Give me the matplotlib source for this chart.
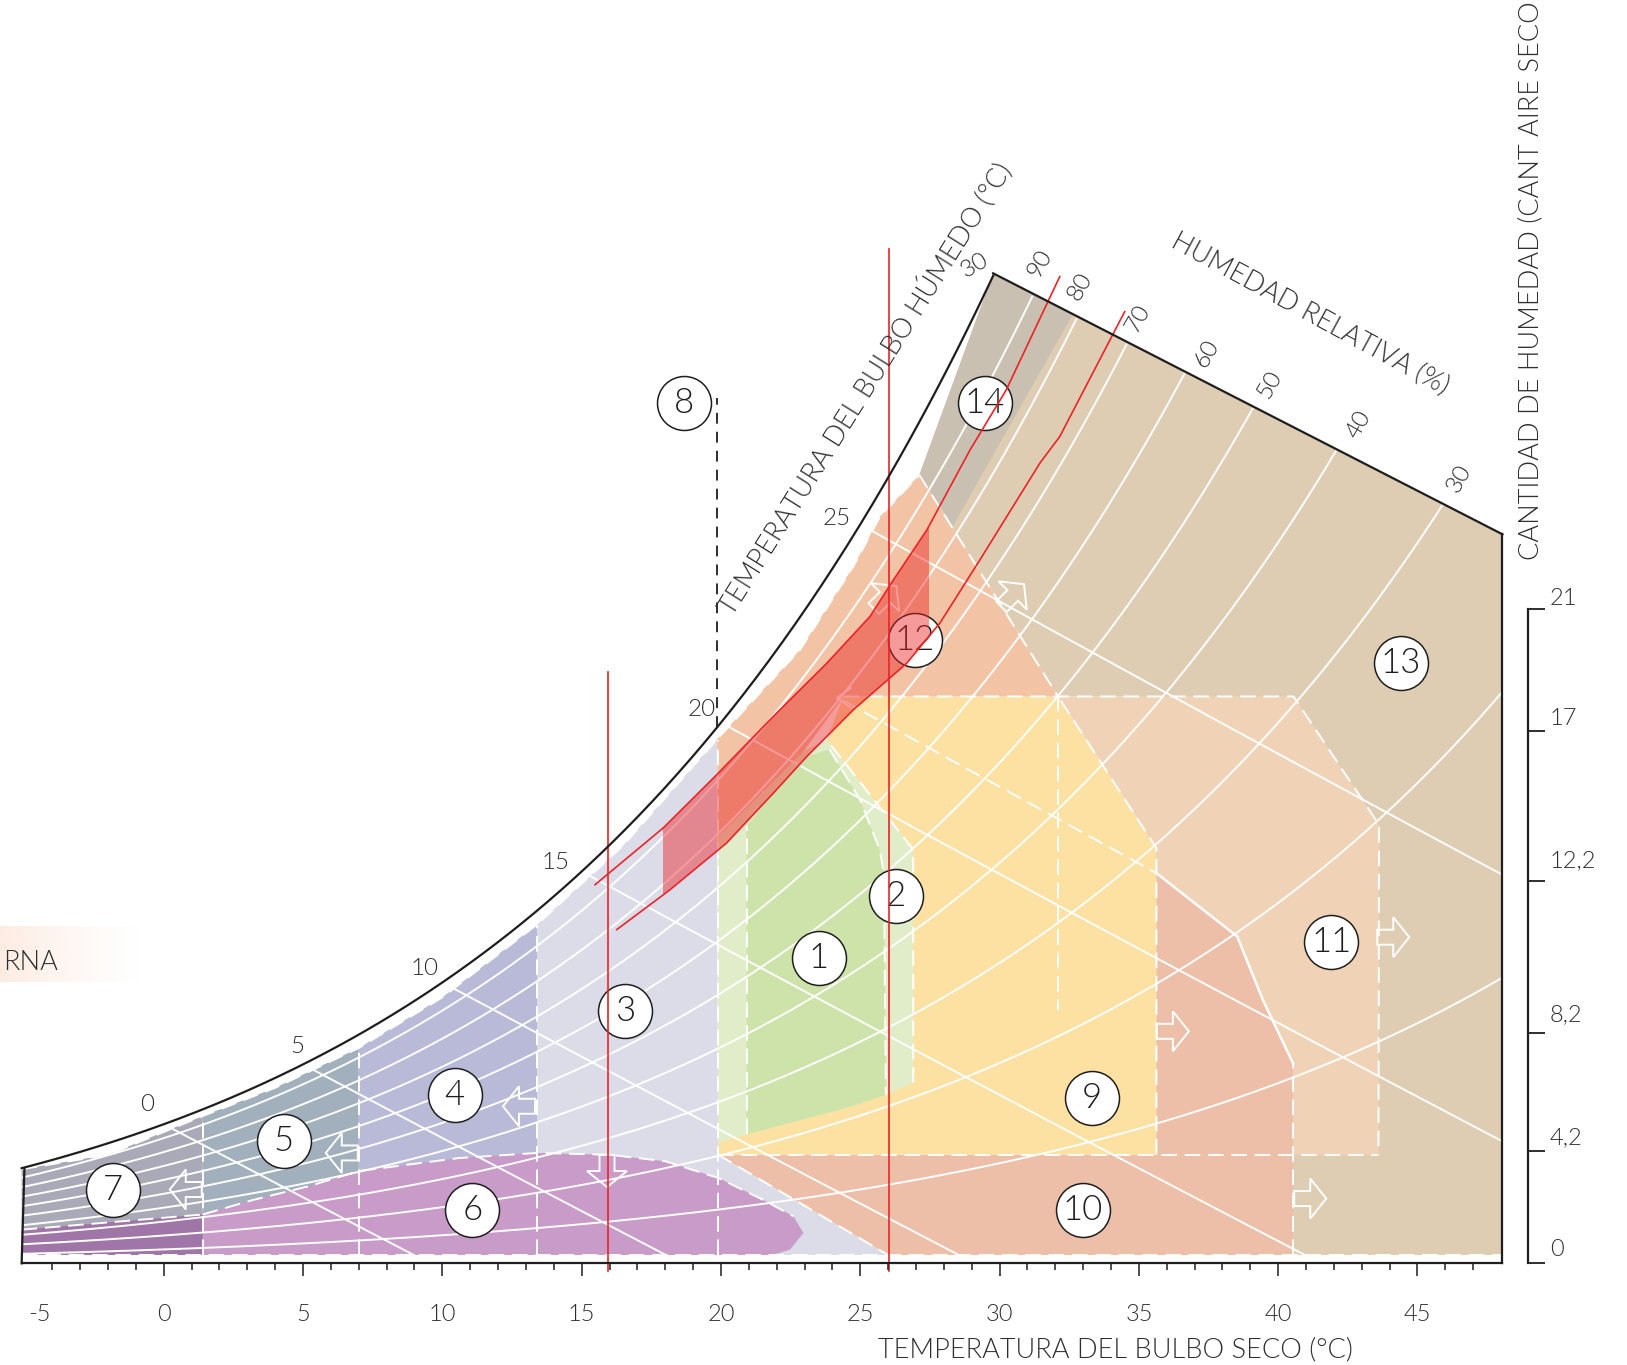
import numpy as np
import matplotlib
matplotlib.use("Agg")
import matplotlib.pyplot as plt
from matplotlib.patches import Polygon, Rectangle
import matplotlib.transforms as mtransforms

plt.rcParams['font.family'] = ['Lato', 'DejaVu Sans']

TEXT = '#2e2e2e'
INK = '#1e1e1e'
RED = '#eb2326'
FW = 300   # thin weight for every label

# ------------------------------------------------------------------
# Psychrometric frame: dry bulb (degC) vs humidity ratio (g/kg)
T_LEFT, T_RIGHT = -5.1, 48.05
W_BASE = 0.23            # lower edge of the coloured areas
P_ATM = 99.5             # kPa


def p_sat(t):
    t = np.asarray(t, dtype=float)
    return 0.61094 * np.exp(17.625 * t / (t + 243.04))


def w_sat(t):
    ps = p_sat(t)
    return 622.0 * ps / (P_ATM - ps)


def w_wetbulb(t, twb):
    ws = w_sat(twb)
    return ((2501 - 2.326 * twb) * ws - 1006 * (t - twb)) / (2501 + 1.86 * t - 4.186 * twb)


RH_LEVELS = [10, 20, 30, 40, 50, 60, 70, 80, 90]
WB_LEVELS = [0, 5, 10, 15, 20, 25]

# upper edge of the coloured areas (just under the saturation curve)
fill_top_T = [-5.1, -2.0, 1.4, 4.0, 7.0, 10.0, 13.4, 16.5, 19.85, 22.84, 24.75, 25.71, 27.12, 29.77]
fill_top_W = [2.60, 3.00, 4.07, 4.85, 5.95, 7.35, 9.36, 11.55, 14.47, 16.95, 19.25, 20.63, 21.78, 27.35]

# upper boundary of the chart (30 degC wet bulb)
top_edge_T = [29.77, 48.05]
top_edge_W = [27.35, 20.14]

# zone 6 (purple) upper boundary
zone6_top_T = [1.4, 3.2, 5.2, 7.0, 10.6, 13.4, 16.0, 18.0, 19.9, 21.5, 22.6, 22.96, 22.48, 21.83]
zone6_top_W = [1.35, 1.75, 2.13, 2.55, 2.91, 3.05, 3.00, 2.82, 2.36, 1.76, 1.30, 0.84, 0.38, 0.23]

# upper edge of the dark band (zones 6 and 7 overlapping)
band_T = [-5.1, 1.4]
band_W = [0.93, 1.35]

# green zones lower edge
green_low_T = [19.9, 20.92, 24.72, 25.92, 26.9]
green_low_W = [3.33, 3.56, 4.34, 4.66, 4.99]

# zone 1 right edge (top to bottom)
zone1_right_T = [23.9, 24.99, 25.7, 25.85, 25.92]
zone1_right_W = [14.2, 12.81, 11.43, 10.78, 4.66]

# red climate band
red_upper_T = [15.48, 17.93, 19.85, 21.88, 23.80, 25.35, 26.19, 27.39, 28.94, 30.24, 32.16]
red_upper_W = [10.46, 12.03, 13.50, 15.11, 16.58, 17.87, 18.88, 20.26, 22.47, 24.13, 27.26]
red_lower_T = [16.26, 18.17, 20.20, 21.88, 23.08, 24.75, 26.67, 27.86, 29.30, 31.45, 32.16, 34.49]
red_lower_W = [9.22, 10.32, 11.61, 12.99, 14.00, 15.29, 16.58, 17.69, 19.44, 22.11, 22.84, 26.29]
red_band_T = [17.93, 27.45]
red_vert_T = [15.95, 26.04]
red_vert_top_W = [16.33, 28.02]

# zone labels
zone_ids = ['1', '2', '3', '4', '5', '6', '7', '8', '9', '10', '11', '12', '13', '14']
zone_T = [23.52, 26.29, 16.55, 10.44, 4.31, 11.08, -1.83, 18.67, 33.30, 32.98, 41.90, 26.96, 44.41, 29.47]
zone_W = [8.44, 10.14, 6.96, 4.66, 3.37, 1.48, 2.04, 23.76, 4.57, 1.48, 8.89, 17.23, 16.58, 23.76]

# direction arrows
arrow_T = [0.79, 6.39, 12.75, 15.91, 36.22, 41.15, 44.13, 30.47]
arrow_W = [2.04, 3.05, 4.34, 2.55, 6.41, 1.79, 9.01, 18.45]
arrow_dir = [180, 180, 180, 270, 0, 0, 0, 45]

# labels
rh_label_text = ['90', '80', '70', '60', '50', '40', '30']
rh_label_T = [31.44, 32.89, 34.97, 37.45, 39.69, 42.90, 46.50]
rh_label_W = [27.63, 26.98, 26.11, 25.14, 24.27, 23.16, 21.69]

wb_label_text = ['0', '5', '10', '15', '20', '25', '30']
wb_label_T = [-0.60, 4.80, 9.38, 14.06, 19.31, 24.15, 29.12]
wb_label_W = [4.39, 6.00, 8.14, 11.08, 15.29, 20.59, 27.58]
wb_label_rot = [0, 0, 0, 0, 0, 0, 30]

x_major = [0, 5, 10, 15, 20, 25, 30, 35, 40, 45]
x_minor = [t for t in range(-4, 48) if t % 5 != 0]
x_label_text = ['-5', '0', '5', '10', '15', '20', '25', '30', '35', '40', '45']
x_label_T = [-4.46, 0, 5, 10, 15, 20, 25, 30, 35, 40, 45]

hum_tick_W = [0.0, 3.09, 6.36, 10.57, 14.70, 18.08]
hum_tick_labels = ['0', '4,2', '8,2', '12,2', '17', '21']
hum_label_W = [0.37, 3.47, 6.88, 11.12, 15.04, 18.37]


def top_between(t0, t1):
    return [(t, w) for t, w in zip(fill_top_T, fill_top_W) if t0 <= t <= t1]


# zone outlines (dry bulb, humidity ratio)
zone13 = [(27.12, 21.78), (29.77, 27.35), (48.05, 20.14), (48.05, W_BASE), (35.0, W_BASE),
          (35.0, 15.66), (32.1, 15.66)]
zone14 = [(27.12, 21.78), (29.77, 27.35), (32.64, 26.23), (28.32, 20.36)]
zone11 = [(32.1, 15.66), (40.55, 15.66), (43.62, 12.12), (43.6, 3.0), (35.63, 3.0), (35.63, 11.47)]
zone10 = [(19.9, 3.0), (26.0, W_BASE), (40.53, W_BASE), (40.53, 5.53), (39.45, 7.28),
          (38.53, 9.03), (35.63, 10.78), (35.63, 3.0)]
zone9 = [(19.9, 3.0), (35.63, 3.0), (35.63, 11.47), (32.1, 15.66), (24.4, 15.66),
         (23.8, 14.46), (22.96, 14.14), (19.9, 11.8)]
zone3 = [(13.4, W_BASE)] + top_between(13.4, 19.85) + [(19.9, 3.0), (26.0, W_BASE)]
zone4 = [(7.0, W_BASE)] + top_between(7.0, 13.4) + [(13.4, W_BASE)]
zone5 = [(1.4, W_BASE)] + top_between(1.4, 7.0) + [(7.0, W_BASE)]
zone7 = [(-5.1, W_BASE)] + top_between(-5.1, 1.4) + [(1.4, W_BASE)]
zone6 = [(1.4, W_BASE)] + list(zip(zone6_top_T, zone6_top_W))
zone67 = [(-5.1, W_BASE)] + list(zip(band_T, band_W)) + [(1.4, W_BASE)]
zone2 = list(zip(green_low_T, green_low_W)) + [(26.9, 11.43), (23.8, 14.46), (22.96, 14.14), (19.9, 11.8)]
zone1 = [(20.92, 3.56), (24.72, 4.34)] + list(zip(zone1_right_T, zone1_right_W))[::-1] + \
        [(23.08, 14.0), (21.88, 12.99), (20.92, 12.07)]
zone12 = top_between(19.85, 27.12) + [(32.1, 15.66), (24.4, 15.66), (22.96, 14.14), (19.9, 11.8)]

zones = [
    (zone13, '#decdb3'), (zone14, '#cac0b1'), (zone11, '#f0d3b7'), (zone10, '#edbfa9'),
    (zone9, '#fde1a3'), (zone3, '#dcdce9'), (zone4, '#b8bad7'), (zone5, '#a2afbd'),
    (zone7, '#a9a9b7'), (zone6, '#c89bc9'), (zone67, '#a076a8'), (zone2, '#e1edc8'),
    (zone1, '#cde3aa'), (zone12, '#f2c3a4'),
]

# dashed white zone borders
dashed_borders = [
    [(19.9, 3.0), (43.6, 3.0)],
    [(35.63, 3.0), (35.63, 11.47), (32.1, 15.66)],
    [(24.4, 15.66), (40.55, 15.66), (43.62, 12.12), (43.6, 3.0)],
    [(40.53, W_BASE), (40.53, 5.53)],
    [(19.9, 3.0), (26.0, W_BASE)],
    [(T_LEFT, W_BASE), (T_RIGHT, W_BASE)],
    [(1.4, W_BASE), (1.4, 4.07)],
    [(7.0, W_BASE), (7.0, 5.95)],
    [(13.4, W_BASE), (13.4, 9.36)],
    [(19.9, W_BASE), (19.9, 14.47)],
    [(20.92, 3.56), (20.92, 12.07)],
    [(26.9, 4.99), (26.9, 11.43), (23.8, 14.46)],
    list(zip(zone1_right_T, zone1_right_W)),
    [(27.12, 21.78), (32.1, 15.66)],
    [(32.1, 15.66), (32.1, 7.01)],
    [(24.4, 15.54), (35.63, 10.78)],
    list(zip(zone6_top_T, zone6_top_W))[:11],
    list(zip(band_T, band_W)),
    list(zip(fill_top_T, fill_top_W))[:13],
]
solid_borders = [
    [(35.63, 10.78), (38.53, 9.03), (39.45, 7.28), (40.53, 5.53)],
]

# ------------------------------------------------------------------
fig = plt.figure(figsize=(16.27, 13.65), dpi=100)
ax = fig.add_axes([0, 0, 1, 1])
ax.set_xlim(-5.877, 52.52)
ax.set_ylim(-2.808, 34.9)
ax.axis('off')

for pts, col in zones:
    ax.add_patch(Polygon(pts, closed=True, facecolor=col, edgecolor='none', zorder=1))

# chart interior used to clip the grid lines
sat_T = np.linspace(T_LEFT, top_edge_T[0], 300)
sat_W = w_sat(sat_T)
outline = [(T_LEFT, 0.0)] + list(zip(sat_T, sat_W)) + [(top_edge_T[1], top_edge_W[1]), (T_RIGHT, 0.0)]
clip_poly = Polygon(outline, closed=True, facecolor='none', edgecolor='none')
ax.add_patch(clip_poly)

# relative humidity lines
for rh in RH_LEVELS:
    tt = np.linspace(T_LEFT, T_RIGHT, 400)
    ln, = ax.plot(tt, rh / 100.0 * w_sat(tt), color='white', lw=1.4, zorder=3)
    ln.set_clip_path(clip_poly)

# wet bulb lines
for twb in WB_LEVELS:
    tt = np.linspace(twb, T_RIGHT, 400)
    ww = w_wetbulb(tt, twb)
    keep = ww >= 0
    ln, = ax.plot(tt[keep], ww[keep], color='white', lw=1.4, zorder=3)
    ln.set_clip_path(clip_poly)

for seg in dashed_borders:
    xs, ys = zip(*seg)
    ax.plot(xs, ys, color='white', lw=1.4, ls=(0, (8, 4)), zorder=3)
for seg in solid_borders:
    xs, ys = zip(*seg)
    ax.plot(xs, ys, color='white', lw=1.8, zorder=3)

fig.canvas.draw()

ARROW_SHAPE = np.array([(-16, -7.5), (0, -7.5), (0, -20), (16, 0), (0, 20), (0, 7.5), (-16, 7.5)])


def pixel_arrow(t, w, angle, z):
    cx, cy = ax.transData.transform((t, w))
    th = np.deg2rad(angle)
    rot = np.array([[np.cos(th), -np.sin(th)], [np.sin(th), np.cos(th)]])
    pts = ARROW_SHAPE @ rot.T + np.array([cx, cy])
    ax.add_patch(Polygon(pts, closed=True, fill=False, edgecolor='white', lw=1.4,
                         transform=mtransforms.IdentityTransform(), zorder=z))


for t, w, a in zip(arrow_T, arrow_W, arrow_dir):
    pixel_arrow(t, w, a, 4)
# arrow lying under the red band
pixel_arrow(25.89, 18.40, 45, 4)

# chevron on the 80 % line
cx, cy = ax.transData.transform((24.16, 15.62))
chev = np.array([(14, 10), (0, 0), (14, -10)]) + np.array([cx, cy])
ax.plot(chev[:, 0], chev[:, 1], color='white', lw=1.3, transform=mtransforms.IdentityTransform(), zorder=4)

# zone number circles
for zid, t, w in zip(zone_ids, zone_T, zone_W):
    ax.scatter([t], [w], s=1510, facecolor='white', edgecolor=INK, linewidths=1.1, zorder=5)
    ax.text(t, w, zid, ha='center', va='center', fontsize=25, fontweight=FW, color=INK, zorder=5.5)

# red band (translucent) clipped between its two bounding verticals
band_pts = list(zip(red_upper_T, red_upper_W)) + list(zip(red_lower_T, red_lower_W))[::-1]
band = Polygon(band_pts, closed=True, facecolor=RED, alpha=0.455, edgecolor='none', zorder=6)
ax.add_patch(band)
band_clip = Rectangle((red_band_T[0], 0), red_band_T[1] - red_band_T[0], 30,
                      facecolor='none', edgecolor='none')
ax.add_patch(band_clip)
band.set_clip_path(band_clip)

ax.plot(red_upper_T, red_upper_W, color=RED, lw=1.2, zorder=7)
ax.plot(red_lower_T, red_lower_W, color=RED, lw=1.2, zorder=7)
for t, top in zip(red_vert_T, red_vert_top_W):
    ax.plot([t, t], [-0.2, top], color=RED, lw=1.2, zorder=7)

# chart outline
ax.plot(sat_T, sat_W, color=INK, lw=1.6, zorder=8)
ax.plot(top_edge_T, top_edge_W, color=INK, lw=1.6, zorder=8)
ax.plot([T_RIGHT, T_RIGHT], [top_edge_W[1], 0], color=INK, lw=1.6, zorder=8)
ax.plot([T_LEFT, T_LEFT + 0.1], [0, w_sat(T_LEFT)], color=INK, lw=1.6, zorder=8)

# zone 8 marker line
ax.plot([19.87, 19.87], [w_sat(19.87), 23.9], color=INK, lw=1.3, ls=(0, (6, 4.5)), zorder=8)

# bottom axis
fw, fh = fig.bbox.width, fig.bbox.height
x0, y0 = ax.transData.transform((T_LEFT, 0.0))
x1, _ = ax.transData.transform((T_RIGHT, 0.0))
axb = fig.add_axes([x0 / fw, y0 / fh, (x1 - x0) / fw, 1e-4])
axb.set_xlim(T_LEFT, T_RIGHT)
axb.patch.set_visible(False)
for s in ['left', 'right', 'top']:
    axb.spines[s].set_visible(False)
axb.spines['bottom'].set_linewidth(1.6)
axb.spines['bottom'].set_color(INK)
axb.set_yticks([])
axb.set_xticks(x_major)
axb.set_xticks(x_minor, minor=True)
axb.tick_params(axis='x', which='major', length=9.5, width=1.1, color=INK, direction='out', labelbottom=False)
axb.tick_params(axis='x', which='minor', length=5, width=1.1, color=INK, direction='out')

for lab, t in zip(x_label_text, x_label_T):
    ax.text(t, -1.40, lab, ha='center', va='center', fontsize=17, fontweight=FW, color=TEXT)
ax.text(34.17, -2.38, 'TEMPERATURA DEL BULBO SECO (°C)', ha='center', va='center',
        fontsize=19.5, fontweight=FW, color=TEXT)

# right humidity scale
xr, _ = ax.transData.transform((48.95, 0.0))
_, yr0 = ax.transData.transform((0, 0.0))
_, yr1 = ax.transData.transform((0, hum_tick_W[-1]))
axr = fig.add_axes([xr / fw, yr0 / fh, 1e-4, (yr1 - yr0) / fh])
axr.set_ylim(0, hum_tick_W[-1])
axr.patch.set_visible(False)
for s in ['right', 'top', 'bottom']:
    axr.spines[s].set_visible(False)
axr.spines['left'].set_linewidth(1.6)
axr.spines['left'].set_color(INK)
axr.set_xticks([])
axr.set_yticks(hum_tick_W)
axr.tick_params(axis='y', length=12, width=1.3, color=INK, direction='in', labelleft=False)
for lab, w in zip(hum_tick_labels, hum_label_W):
    ax.text(49.75, w, lab, ha='left', va='center', fontsize=17, fontweight=FW, color=TEXT)

ax.text(49.08, 19.44, 'CANTIDAD DE HUMEDAD (CANT AIRE SECO', rotation=90, rotation_mode='anchor',
        ha='left', va='center', fontsize=19.5, fontweight=FW, color=TEXT)

# curve labels
for lab, t, w in zip(rh_label_text, rh_label_T, rh_label_W):
    ax.text(t, w, lab, rotation=60, rotation_mode='anchor', ha='center', va='center',
            fontsize=17.5, fontweight=FW, color=TEXT, zorder=9)
for lab, t, w, r in zip(wb_label_text, wb_label_T, wb_label_W, wb_label_rot):
    ax.text(t, w, lab, rotation=r, rotation_mode='anchor', ha='center', va='center',
            fontsize=17.5, fontweight=FW, color=TEXT, zorder=9)

ax.text(41.14, 26.25, 'HUMEDAD RELATIVA (%)', rotation=-28.5, rotation_mode='anchor',
        ha='center', va='center', fontsize=19.5, fontweight=FW, color=TEXT, zorder=9)
ax.text(25.17, 24.17, 'TEMPERATURA DEL BULBO HÚMEDO (°C)', rotation=57.9, rotation_mode='anchor',
        ha='center', va='center', fontsize=19.5, fontweight=FW, color=TEXT, zorder=9)

# side tag
grad = np.zeros((1, 256, 4))
grad[..., 0] = 253 / 255
grad[..., 1] = 236 / 255
grad[..., 2] = 226 / 255
grad[..., 3] = np.linspace(1, 0, 256) ** 1.3
ax.imshow(grad, extent=[-5.877, -0.85, 7.77, 9.31], aspect='auto', zorder=1, interpolation='bilinear')
ax.text(-3.79, 8.31, 'RNA', ha='right', va='center', fontsize=19.5, fontweight=FW, color=TEXT, zorder=9)

ax.set_xlim(-5.877, 52.52)
ax.set_ylim(-2.808, 34.9)

fig.savefig('out.png', dpi=100)
